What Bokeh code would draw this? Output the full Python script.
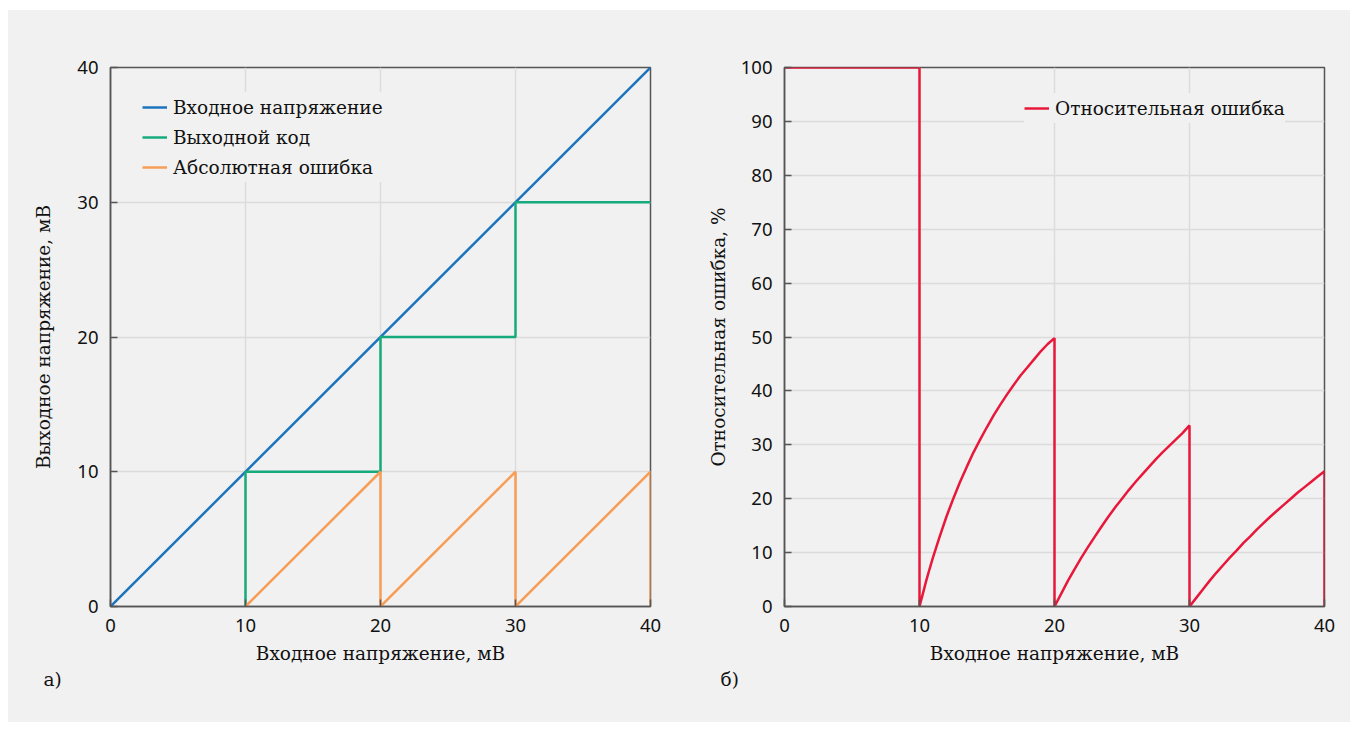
from bokeh.plotting import figure
from bokeh.models import Range1d, Legend, LegendItem, Title, FixedTicker
from bokeh.layouts import row
from bokeh.embed import file_html
from bokeh.resources import INLINE

# ---- data ----
input_x = [0, 40]
input_y = [0, 40]

code_x = [10, 10, 20, 20, 30, 30, 40]
code_y = [0, 10, 10, 20, 20, 30, 30]

abs_x = [10, 20, 20, 30, 30, 40, 40]
abs_y = [0, 10, 0, 10, 0, 10, 0]

rel_x = [0, 10,
         10, 10.25, 10.5, 10.75, 11, 11.5, 12, 12.5, 13, 13.5, 14, 14.5, 15,
         15.5, 16, 16.5, 17, 17.5, 18, 18.5, 19, 19.5, 20,
         20, 20.5, 21, 21.5, 22, 22.5, 23, 23.5, 24, 24.5, 25,
         25.5, 26, 26.5, 27, 27.5, 28, 28.5, 29, 29.5, 30,
         30, 30.5, 31, 31.5, 32, 32.5, 33, 33.5, 34, 34.5, 35,
         35.5, 36, 36.5, 37, 37.5, 38, 38.5, 39, 39.5, 40, 40]
rel_y = [100, 100,
         0, 2.4, 4.8, 7, 9.1, 13, 16.7, 20, 23.1, 25.9, 28.6, 31, 33.3,
         35.5, 37.5, 39.4, 41.2, 42.9, 44.4, 45.9, 47.4, 48.7, 49.8,
         0, 2.4, 4.8, 7, 9.1, 11.1, 13, 14.9, 16.7, 18.4, 20,
         21.6, 23.1, 24.5, 25.9, 27.3, 28.6, 29.8, 31, 32.2, 33.6,
         0, 1.6, 3.2, 4.8, 6.3, 7.7, 9.1, 10.4, 11.8, 13, 14.3,
         15.5, 16.7, 17.8, 18.9, 20, 21.1, 22.1, 23.1, 24.1, 25.1, 0]

x_ticks = [0, 10, 20, 30, 40]
left_y_ticks = [0, 10, 20, 30, 40]
right_y_ticks = [0, 10, 20, 30, 40, 50, 60, 70, 80, 90, 100]

x_label = "Входное напряжение, мВ"
left_y_label = "Выходное напряжение, мВ"
right_y_label = "Относительная ошибка, %"
left_names = ["Входное напряжение", "Выходной код", "Абсолютная ошибка"]
right_names = ["Относительная ошибка"]
panel_tags = ["а)", "б)"]

BG = "#f1f1f1"
SERIF = "DejaVu Serif"
SANS = "Noto Sans"
FS = "18.5px"
C_BLUE = "#1b74bd"
C_GREEN = "#16ab7c"
C_ORANGE = "#f79d56"
C_RED = "#e8183b"


def make_fig(ymax, yticks, ylab, border_left, border_right, ylab_standoff):
    p = figure(frame_width=540, frame_height=539,
               min_border_left=border_left, min_border_right=border_right,
               min_border_top=57, min_border_bottom=116,
               x_range=Range1d(0, 40), y_range=Range1d(0, ymax),
               output_backend="svg", toolbar_location=None)
    p.background_fill_color = BG
    p.border_fill_color = BG
    p.outline_line_color = "#555555"
    p.outline_line_width = 1.5
    p.xaxis.ticker = FixedTicker(ticks=x_ticks)
    p.yaxis.ticker = FixedTicker(ticks=yticks)
    p.xgrid.ticker = FixedTicker(ticks=x_ticks)
    p.ygrid.ticker = FixedTicker(ticks=yticks)
    p.grid.grid_line_color = "#dcdcdc"
    p.grid.grid_line_width = 1.5
    for ax in (p.xaxis, p.yaxis):
        ax.axis_line_color = "#555555"
        ax.axis_line_width = 1.5
        ax.major_tick_in = 7
        ax.major_tick_out = 0
        ax.major_tick_line_color = "#555555"
        ax.major_tick_line_width = 1.5
        ax.minor_tick_line_color = None
        ax.major_label_text_font = SANS
        ax.major_label_text_font_size = FS
        ax.major_label_text_color = "#111111"
        ax.axis_label_text_font = SERIF
        ax.axis_label_text_font_size = FS
        ax.axis_label_text_font_style = "normal"
        ax.axis_label_text_color = "#111111"
        ax.major_label_standoff = 12
    p.xaxis.axis_label = x_label
    p.yaxis.axis_label = ylab
    p.xaxis.axis_label_standoff = 8
    p.yaxis.axis_label_standoff = ylab_standoff
    return p


p1 = make_fig(40, left_y_ticks, left_y_label, 102, 29, 20)
r_in = p1.line(input_x, input_y, line_color=C_BLUE, line_width=2.5)
r_code = p1.line(code_x, code_y, line_color=C_GREEN, line_width=2.5)
r_abs = p1.line(abs_x, abs_y, line_color=C_ORANGE, line_width=2.5)
leg1 = Legend(items=[LegendItem(label=left_names[0], renderers=[r_in]),
                     LegendItem(label=left_names[1], renderers=[r_code]),
                     LegendItem(label=left_names[2], renderers=[r_abs])],
              location=(32, 424))
p1.add_layout(leg1, "center")

p2 = make_fig(100, right_y_ticks, right_y_label, 105, 26, 9)
r_rel = p2.line(rel_x, rel_y, line_color=C_RED, line_width=2.5)
leg2 = Legend(items=[LegendItem(label=right_names[0], renderers=[r_rel])],
              location=(240, 483))
p2.add_layout(leg2, "center")

for leg, pad in ((leg1, 8), (leg2, 20)):
    leg.background_fill_color = BG
    leg.background_fill_alpha = 1.0
    leg.border_line_color = None
    leg.padding = pad
    leg.margin = 0
    leg.spacing = 0
    leg.glyph_width = 25
    leg.glyph_height = 30
    leg.label_height = 30
    leg.label_standoff = 6
    leg.label_text_font = SERIF
    leg.label_text_font_size = FS
    leg.label_text_color = "#111111"

for p, tag, off in ((p1, panel_tags[0], -67), (p2, panel_tags[1], -64)):
    p.add_layout(Title(text=tag, align="left", offset=off, standoff=0,
                       text_font=SERIF, text_font_size=FS,
                       text_font_style="normal", text_color="#111111"),
                 "below")

layout = row(p1, p2, spacing=0)
layout.styles = {"background-color": BG, "margin-left": "8px",
                 "margin-top": "10px"}

open("out.html", "w").write(file_html(layout, INLINE))
